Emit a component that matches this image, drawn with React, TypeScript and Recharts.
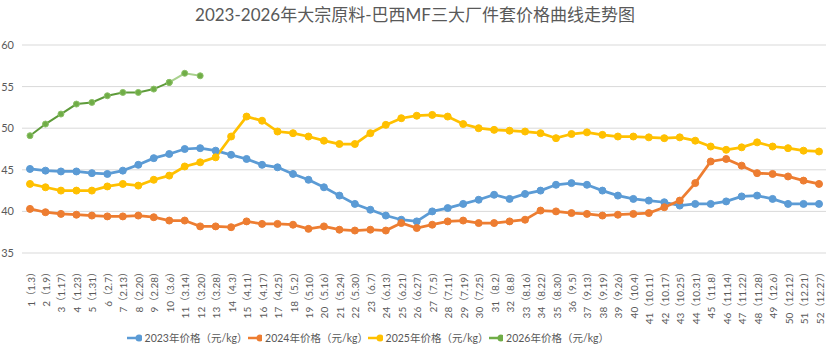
import { LineChart, Line, XAxis, YAxis, CartesianGrid, Legend } from 'recharts';

const weeks = [
  '1（1.3）', '2（1.9）', '3（1.17）', '4（1.23）', '5（1.31）', '6（2.7）', '7（2.13）', '8（2.20）',
  '9（2.28）', '10（3.6）', '11（3.14）', '12（3.20）', '13（3.28）', '14（4.3）', '15（4.11）', '16（4.17）',
  '17（4.25）', '18（5.2）', '19（5.10）', '20（5.16）', '21（5.24）', '22（5.30）', '23（6.7）', '24（6.13）',
  '25（6.21）', '26（6.27）', '27（7.5）', '28（7.11）', '29（7.19）', '30（7.25）', '31（8.2）', '32（8.8）',
  '33（8.16）', '34（8.22）', '35（8.30）', '36（9.5）', '37（9.13）', '38（9.19）', '39（9.26）', '40（10.4）',
  '41（10.11）', '42（10.17）', '43（10.25）', '44（10.31）', '45（11.8）', '46（11.14）', '47（11.22）', '48（11.28）',
  '49（12.6）', '50（12.12）', '51（12.21）', '52（12.27）',
];

const price2023 = [
  45.1, 44.9, 44.8, 44.8, 44.6, 44.5, 44.9, 45.6, 46.4, 46.9, 47.5, 47.6, 47.3,
  46.8, 46.3, 45.6, 45.3, 44.5, 43.8, 42.9, 41.9, 40.9, 40.2, 39.5, 39.0, 38.8,
  40.0, 40.4, 40.9, 41.4, 42.0, 41.5, 42.1, 42.5, 43.2, 43.4, 43.2, 42.5, 41.9,
  41.5, 41.3, 41.1, 40.7, 40.9, 40.9, 41.2, 41.8, 41.9, 41.5, 40.9, 40.9, 40.9,
];

const price2024 = [
  40.3, 39.9, 39.7, 39.6, 39.5, 39.4, 39.4, 39.5, 39.3, 38.9, 38.9, 38.2, 38.2,
  38.1, 38.8, 38.5, 38.5, 38.4, 37.9, 38.2, 37.8, 37.7, 37.8, 37.7, 38.6, 38.0,
  38.4, 38.8, 38.9, 38.6, 38.6, 38.8, 39.0, 40.1, 40.0, 39.8, 39.7, 39.5, 39.6,
  39.7, 39.8, 40.5, 41.3, 43.4, 46.0, 46.3, 45.5, 44.6, 44.5, 44.2, 43.7, 43.3,
];

const price2025 = [
  43.3, 42.9, 42.5, 42.5, 42.5, 43.0, 43.3, 43.1, 43.8, 44.3, 45.4, 45.9, 46.5,
  49.0, 51.4, 50.9, 49.6, 49.4, 49.0, 48.5, 48.1, 48.1, 49.4, 50.4, 51.2, 51.5,
  51.6, 51.4, 50.5, 50.0, 49.8, 49.7, 49.6, 49.4, 48.8, 49.3, 49.5, 49.2, 49.0,
  49.0, 48.9, 48.8, 48.9, 48.5, 47.8, 47.4, 47.7, 48.3, 47.8, 47.6, 47.3, 47.2,
];

const price2026 = [49.1, 50.5, 51.7, 52.9, 53.1, 53.9, 54.3, 54.3, 54.7, 55.5, 56.6, 56.3];

// the last few 2026 weeks are drawn in a lighter green in the original
const LIGHT_FROM = 9;

const yTicks = [35, 40, 45, 50, 55, 60];

const data = weeks.map((name, i) => ({
  name,
  y2023: price2023[i],
  y2024: price2024[i],
  y2025: price2025[i],
  y2026: i <= LIGHT_FROM ? price2026[i] : null,
  y2026Recent: i >= LIGHT_FROM && i < price2026.length ? price2026[i] : null,
}));

const FONT = "Lato, 'Noto Sans CJK SC', sans-serif";
const TEXT = '#595959';

const legendItems = [
  { label: '2023年价格（元/kg）', color: '#5B9BD5' },
  { label: '2024年价格（元/kg）', color: '#ED7D31' },
  { label: '2025年价格（元/kg）', color: '#FFC000' },
  { label: '2026年价格（元/kg）', color: '#70AD47' },
];

function WeekTick(props: any) {
  const { x, y, payload } = props;
  const ty = y + 6;
  return (
    <text
      x={x}
      y={ty}
      transform={`rotate(-90, ${x}, ${ty})`}
      textAnchor="end"
      dy="0.45em"
      fontSize={10}
      fill={TEXT}
      fontFamily={FONT}
    >
      {payload.value}
    </text>
  );
}

function ChartLegend() {
  return (
    <div style={{ display: 'flex', fontFamily: FONT, fontSize: 10.5, color: TEXT }}>
      {legendItems.map((item) => (
        <div key={item.label} style={{ display: 'flex', alignItems: 'center', width: 120.5 }}>
          <svg width={24} height={10}>
            <line x1={0} y1={5} x2={24} y2={5} stroke={item.color} strokeWidth={2.5} />
            <circle cx={12} cy={5} r={3.5} fill={item.color} />
          </svg>
          <span style={{ marginLeft: 3, whiteSpace: 'nowrap' }}>{item.label}</span>
        </div>
      ))}
    </div>
  );
}

export default function App() {
  return (
    <div style={{ position: 'absolute', left: 0, top: 0, width: 830, height: 358, background: '#fff' }}>
      <div
        style={{
          position: 'absolute',
          top: 1,
          left: 0,
          width: 830,
          textAlign: 'center',
          fontFamily: FONT,
          fontSize: 17,
          color: TEXT,
        }}
      >
        2023-2026年大宗原料-巴西MF三大厂件套价格曲线走势图
      </div>
      <LineChart
        width={830}
        height={358}
        data={data}
        margin={{ top: 45, right: 4, bottom: 25, left: 0 }}
      >
        <CartesianGrid vertical={false} stroke="#d9d9d9" />
        <XAxis
          dataKey="name"
          interval={0}
          height={80}
          padding={{ left: 8, right: 7 }}
          axisLine={false}
          tickLine={false}
          tick={<WeekTick />}
        />
        <YAxis
          domain={[35, 60]}
          ticks={yTicks}
          width={22}
          axisLine={false}
          tickLine={false}
          tick={{ fontSize: 11, fill: TEXT, fontFamily: FONT }}
        />
        <Legend
          layout="horizontal"
          verticalAlign="middle"
          align="center"
          wrapperStyle={{ top: 330, left: 127, width: 500 }}
          content={<ChartLegend />}
        />
        <Line
          type="linear"
          dataKey="y2023"
          stroke="#5B9BD5"
          strokeWidth={2.75}
          dot={{ r: 3.5, fill: '#5B9BD5', stroke: '#5B9BD5', strokeWidth: 1 }}
          isAnimationActive={false}
        />
        <Line
          type="linear"
          dataKey="y2024"
          stroke="#ED7D31"
          strokeWidth={2.75}
          dot={{ r: 3.5, fill: '#ED7D31', stroke: '#ED7D31', strokeWidth: 1 }}
          isAnimationActive={false}
        />
        <Line
          type="linear"
          dataKey="y2025"
          stroke="#FFC000"
          strokeWidth={2.75}
          dot={{ r: 3.5, fill: '#FFC000', stroke: '#FFC000', strokeWidth: 1 }}
          isAnimationActive={false}
        />
        <Line
          type="linear"
          dataKey="y2026Recent"
          stroke="#A9D18E"
          strokeWidth={2}
          dot={{ r: 3, fill: '#70AD47', stroke: '#8CC168', strokeWidth: 1 }}
          isAnimationActive={false}
          legendType="none"
        />
        <Line
          type="linear"
          dataKey="y2026"
          stroke="#5E9B3A"
          strokeWidth={2}
          dot={{ r: 3, fill: '#70AD47', stroke: '#8CC168', strokeWidth: 1 }}
          isAnimationActive={false}
        />
      </LineChart>
    </div>
  );
}
